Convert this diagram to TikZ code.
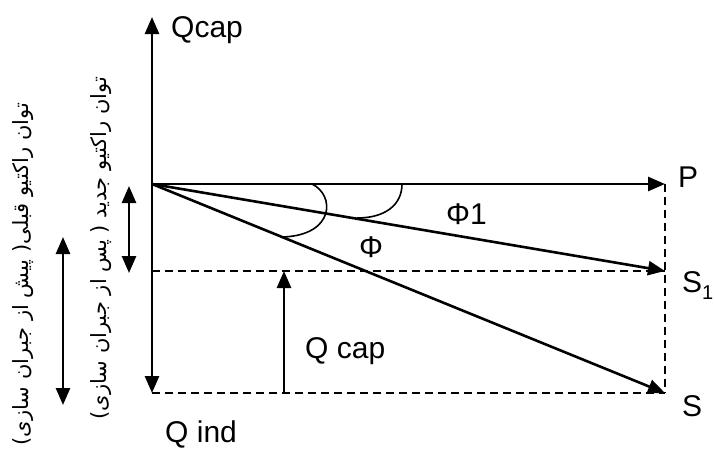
\documentclass[tikz,border=0pt]{standalone}
\usepackage{fontspec}
\setmainfont{Liberation Sans}
\newfontfamily\arabicfont[Script=Arabic]{DejaVu Sans}
\TeXXeTstate=1
\usetikzlibrary{arrows.meta}
\begin{document}
\begin{tikzpicture}[x=1pt,y=-1pt,
  vec/.style={line width=2.6pt,-{Triangle[length=17pt,width=14pt]}},
  dvec/.style={line width=2.6pt,{Triangle[length=17pt,width=14pt]}-{Triangle[length=17pt,width=14pt]}},
  guide/.style={line width=1.6pt,dash pattern=on 8pt off 5pt},
  anglearc/.style={line width=1.6pt},
  lbl/.style={font=\fontsize{30}{32}\selectfont, inner sep=0pt, anchor=base west},
  fa/.style={font=\arabicfont\fontsize{21}{23}\selectfont, inner sep=0pt, rotate=90},
  ]
\useasboundingbox (0,0) rectangle (714,450);
\coordinate (O) at (152,184);
\coordinate (T) at (152,17);
\coordinate (B) at (152,393);
\coordinate (P) at (665,184);
\coordinate (S1) at (665,271);
\coordinate (S) at (665,393);
\coordinate (L1) at (152,271);
\coordinate (QcB) at (284,393);
\coordinate (QcT) at (284,271);
\coordinate (A1) at (63,237);
\coordinate (A2) at (63,405);
\coordinate (C1) at (129,186);
\coordinate (C2) at (129,273);
% guides
\draw[guide] (L1) -- (S1);
\draw[guide] (B) -- (S);
\draw[guide] (P) -- (S);
% axes and vectors
\draw[vec] (O) -- (T);
\draw[vec] (O) -- (B);
\draw[vec] (O) -- (P);
\draw[vec] (O) -- (S1);
\draw[vec] (O) -- (S);
\draw[vec] (QcB) -- (QcT);
\draw[dvec] (A1) -- (A2);
\draw[dvec] (C1) -- (C2);
% angle arcs
\draw[anglearc] (312,184) .. controls (335,195) and (335,235) .. (283,237);
\draw[anglearc] (402,184) .. controls (402,205) and (385,218) .. (357,218);
% labels
\node[lbl] (lqcap) at (171,37) {Qcap};
\node[lbl] (lp) at (678,187) {P};
\node[lbl] (ls1) at (682,292) {S\raisebox{-7pt}{\fontsize{20}{22}\selectfont 1}};
\node[lbl] (ls) at (682,416) {S};
\node[lbl] (lqind) at (165,442) {Q ind};
\node[lbl] (lqc) at (305,358) {Q cap};
\node[lbl] (lphi1) at (446,224) {Φ1};
\node[lbl] (lphi) at (359,257) {Φ};
\node[fa] (t1) at (23,274) {\beginR توان راکتیو قبلی( پیش از جبران سازی)\endR};
\node[fa] (t2) at (101,248) {\beginR توان راکتیو جدید ( پس از جبران سازی)\endR};
\end{tikzpicture}
\end{document}
